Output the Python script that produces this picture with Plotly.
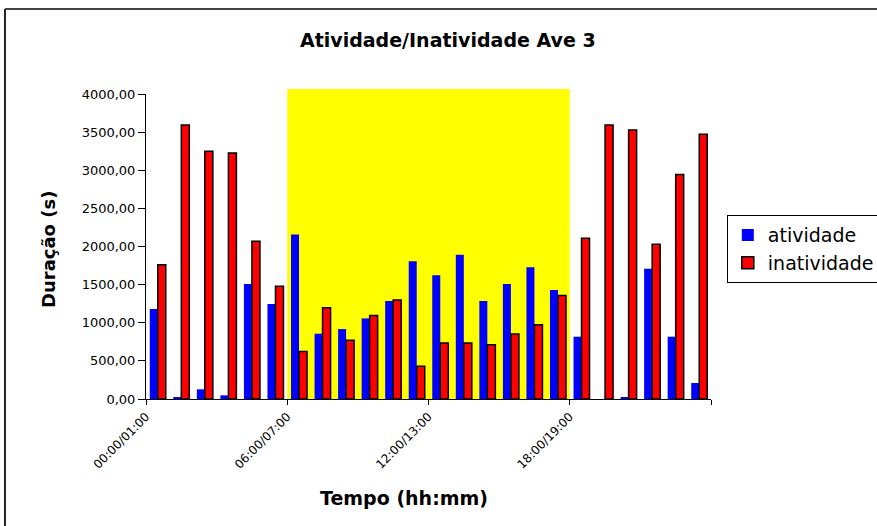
import plotly.graph_objects as go

categories = ["00:00/01:00", "01:00/02:00", "02:00/03:00", "03:00/04:00", "04:00/05:00", "05:00/06:00",
              "06:00/07:00", "07:00/08:00", "08:00/09:00", "09:00/10:00", "10:00/11:00", "11:00/12:00",
              "12:00/13:00", "13:00/14:00", "14:00/15:00", "15:00/16:00", "16:00/17:00", "17:00/18:00",
              "18:00/19:00", "19:00/20:00", "20:00/21:00", "21:00/22:00", "22:00/23:00", "23:00/24:00"]
atividade = [1180, 26, 127, 48, 1507, 1245, 2157, 856, 917, 1057, 1284, 1808,
             1624, 1891, 1284, 1507, 1729, 1428, 817, 0, 26, 1707, 817, 210]
inatividade = [1760, 3594, 3249, 3227, 2070, 1480, 624, 1197, 769, 1096, 1297, 428,
               734, 734, 712, 852, 974, 1358, 2109, 3594, 3528, 2031, 2943, 3472]
y_ticks = [0, 500, 1000, 1500, 2000, 2500, 3000, 3500, 4000]
label_every = 6
day_start, day_end = 6, 18  # categories covered by the yellow band

xs = list(range(len(categories)))
tick_pos = [i - 0.5 for i in range(0, len(categories) + 1, label_every)]
tick_txt = [categories[i] if i < len(categories) else "" for i in range(0, len(categories) + 1, label_every)]

FONT = "DejaVu Sans, Liberation Sans, Arial, sans-serif"

fig = go.Figure()
fig.add_trace(go.Bar(x=xs, y=atividade, name="atividade",
                     marker=dict(color="#0000FF", line=dict(width=0))))
fig.add_trace(go.Bar(x=xs, y=inatividade, name="inatividade",
                     marker=dict(color="#FF0000", line=dict(color="#000000", width=1.5))))

fig.add_shape(type="rect", xref="x", yref="paper", x0=day_start - 0.5, x1=day_end - 0.5,
              y0=0, y1=1.016, fillcolor="#FFFF00", line=dict(width=0), layer="below")

# outer chart border (left and top)
fig.add_shape(type="line", xref="paper", yref="paper", x0=-0.2496, x1=-0.2496, y0=-0.45, y1=1.2787,
              line=dict(color="#222222", width=2))
fig.add_shape(type="line", xref="paper", yref="paper", x0=-0.2496, x1=1.35, y0=1.2787, y1=1.2787,
              line=dict(color="#444444", width=2))

fig.add_annotation(text="<b>Atividade/Inatividade Ave 3</b>", xref="paper", yref="paper",
                   x=0.5345, y=1.177, xanchor="center", yanchor="middle", showarrow=False,
                   font=dict(family=FONT, size=19, color="#000"))
fig.add_annotation(text="<b>Duração (s)</b>", xref="paper", yref="paper", textangle=-90,
                   x=-0.1735, y=0.4918, xanchor="center", yanchor="middle", showarrow=False,
                   font=dict(family=FONT, size=18, color="#000"))
fig.add_annotation(text="<b>Tempo (hh:mm)</b>", xref="paper", yref="paper",
                   x=0.4566, y=-0.3246, xanchor="center", yanchor="middle", showarrow=False,
                   font=dict(family=FONT, size=19, color="#000"))

fig.update_layout(
    width=877, height=526,
    margin=dict(l=146, r=166, t=94, b=127, autoexpand=False),
    paper_bgcolor="white", plot_bgcolor="white",
    barmode="group", bargap=0.32, bargroupgap=0,
    separators=",.",
    font=dict(family=FONT, color="#000"),
    showlegend=True,
    legend=dict(x=1.028, y=0.603, xanchor="left", yanchor="top",
                bordercolor="#000", borderwidth=1, bgcolor="white",
                font=dict(family=FONT, size=19, color="#000"), tracegroupgap=0),
    xaxis=dict(range=[-0.5, len(categories) - 0.5], tickmode="array", tickvals=tick_pos, ticktext=tick_txt,
               tickangle=-45, ticks="outside", ticklen=5, tickcolor="#000", showline=True,
               linecolor="#000", linewidth=1, showgrid=False, zeroline=False, automargin=False,
               tickfont=dict(family=FONT, size=12, color="#000")),
    yaxis=dict(range=[0, 4000], tickmode="array", tickvals=y_ticks, tickformat=".2f",
               ticks="outside", ticklen=7, tickcolor="#000", showline=True, linecolor="#000",
               linewidth=1, showgrid=False, zeroline=False, automargin=False,
               tickfont=dict(family=FONT, size=13, color="#000")),
)

fig.write_html("out.html", config={"displayModeBar": False},
               post_script="document.body.style.margin='0px';")
